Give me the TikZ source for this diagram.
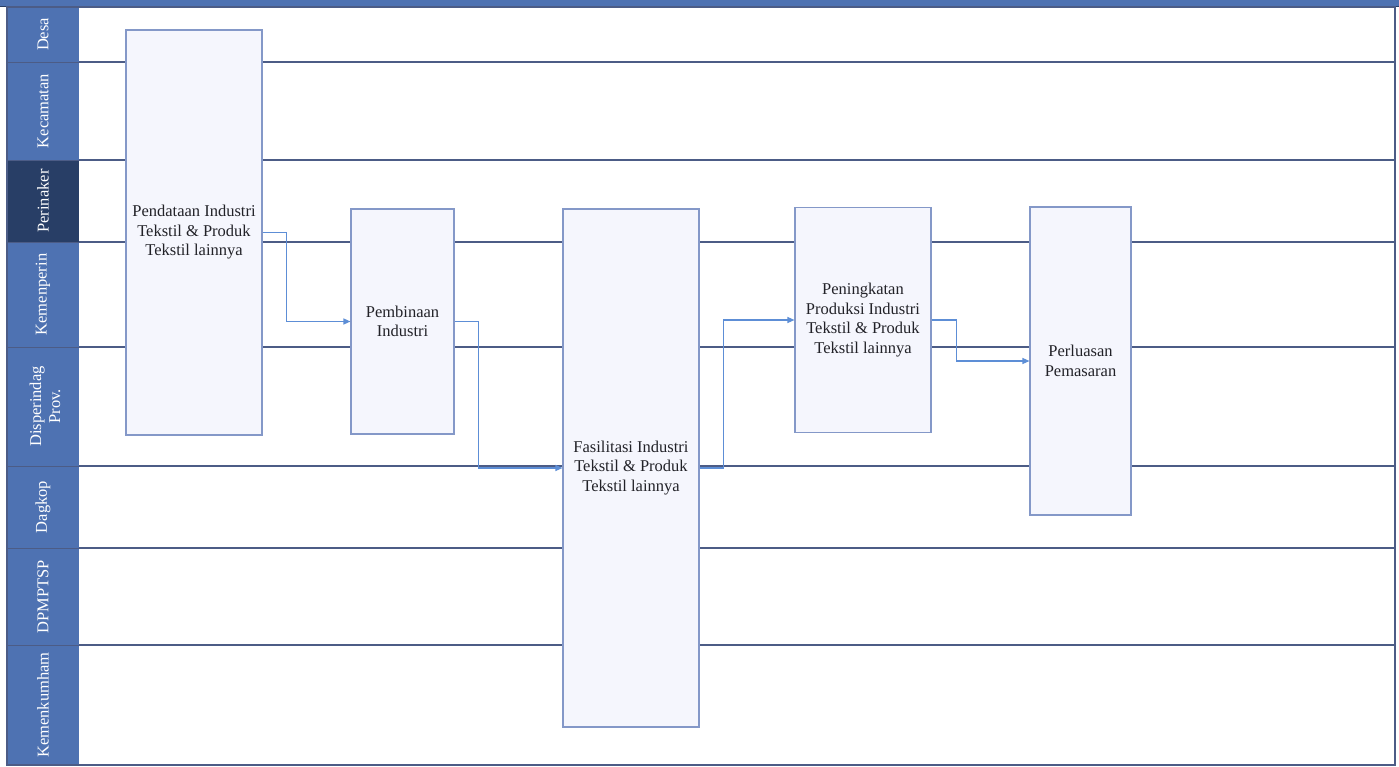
\documentclass[tikz,border=0pt]{standalone}
\usepackage{fontspec}
\setmainfont{Liberation Serif}
\usetikzlibrary{arrows.meta}
\definecolor{laneblue}{RGB}{78,114,178}
\definecolor{lanedark}{RGB}{40,62,102}
\definecolor{laneline}{RGB}{76,92,134}
\definecolor{boxedge}{RGB}{132,152,200}
\definecolor{boxfill}{RGB}{245,246,253}
\definecolor{flow}{RGB}{93,142,214}
\definecolor{inktext}{RGB}{34,34,40}
\tikzset{
  procbox/.style={draw=boxedge, fill=boxfill, line width=1.1pt, rectangle,
    align=center, inner sep=0pt, text=inktext,
    font=\fontsize{16.5}{19.5}\selectfont},
  lanelabel/.style={rotate=90, text=white, align=center,
    font=\fontsize{16.5}{19}\selectfont},
  divider/.style={draw=laneline, line width=1.1pt},
  flowarrow/.style={draw=flow, line width=1.2pt,
    -{Triangle[length=7pt,width=6pt]}}
}
\begin{document}
\begin{tikzpicture}[x=1pt,y=-1pt]
\useasboundingbox (0,0) rectangle (1399,767);
\fill[white] (0,0) rectangle (1399,767);

% lane dividers behind the process boxes
\foreach \yy in {62,160,242,347,466,548,645}
  \draw[divider] (79,\yy) -- (1395,\yy);

% left column with lane names
\fill[laneblue] (7,7) rectangle (79,765);
\fill[lanedark] (7,160) rectangle (79,242);
\foreach \yy in {62,160,242,347,466,548,645}
  \draw[laneline, line width=0.6pt] (7,\yy) -- (79,\yy);
\node[lanelabel] (lDesa) at (43,34.5) {Desa};
\node[lanelabel] (lKec) at (43,111) {Kecamatan};
\node[lanelabel] (lPer) at (43,201) {Perinaker};
\node[lanelabel] (lKem) at (43,294.5) {Kemenperin};
\node[lanelabel] (lDis) at (45,406.5) {Disperindag\\Prov.};
\node[lanelabel] (lDag) at (43,507) {Dagkop};
\node[lanelabel] (lDpm) at (43,596.5) {DPMPTSP};
\node[lanelabel] (lKmh) at (43,705) {Kemenkumham};

% header bar and outer frame
\fill[laneblue] (0,0) rectangle (1399,6.5);
\draw[lanedark, line width=1.6pt] (0,6.5) -- (1399,6.5);
\draw[laneline, line width=1.1pt] (7,7) rectangle (1395,765);

% process boxes
\node[procbox, minimum width=136pt, minimum height=405pt] (pendataan) at (194,232.5)
  {Pendataan Industri\\Tekstil \& Produk\\Tekstil lainnya};
\node[procbox, minimum width=103pt, minimum height=225pt] (pembinaan) at (402.5,321.5)
  {Pembinaan\\Industri};
\node[procbox, minimum width=136pt, minimum height=518pt] (fasilitasi) at (631,468)
  {Fasilitasi Industri\\Tekstil \& Produk\\Tekstil lainnya};
\node[procbox, minimum width=136pt, minimum height=225pt] (peningkatan) at (863,320)
  {Peningkatan\\Produksi Industri\\Tekstil \& Produk\\Tekstil lainnya};
\node[procbox, minimum width=101pt, minimum height=308pt] (perluasan) at (1080.5,361)
  {Perluasan\\Pemasaran};

% flow connectors
\draw[flowarrow] (pendataan.east) -- ++(24,0) |- (pembinaan.west);
\draw[flowarrow] (pembinaan.east) -- ++(24,0) |- (fasilitasi.west);
\draw[flowarrow] (fasilitasi.east) -- ++(24,0) |- (peningkatan.west);
\draw[flowarrow] (peningkatan.east) -- ++(25,0) |- (perluasan.west);
\end{tikzpicture}
\end{document}
